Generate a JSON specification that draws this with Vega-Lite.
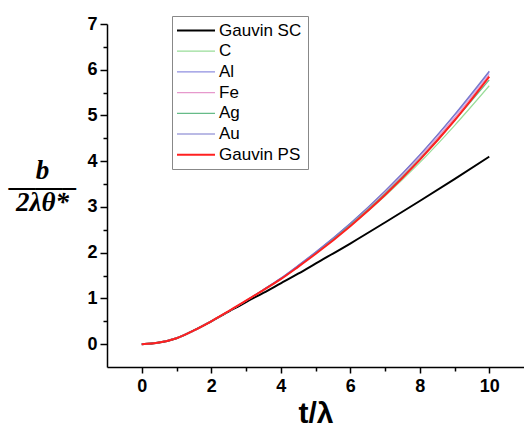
{
  "$schema": "https://vega.github.io/schema/vega-lite/v6.json",
  "width": 417,
  "height": 343,
  "autosize": {"type": "none"},
  "padding": {"left": 107, "top": 24, "right": 0, "bottom": 62},
  "background": "white",
  "config": {
    "view": {"stroke": null},
    "axis": {
      "grid": false,
      "domainColor": "#000000",
      "domainWidth": 1.5,
      "tickColor": "#000000",
      "tickWidth": 1.5,
      "labelColor": "#000000",
      "labelFont": "Liberation Sans",
      "labelFontSize": 18,
      "labelFontWeight": "bold",
      "titleColor": "#000000"
    }
  },
  "data": {
    "values": [
      {"t": 0, "b": 0, "series": "Gauvin SC"},
      {"t": 0.5, "b": 0.035, "series": "Gauvin SC"},
      {"t": 1, "b": 0.13, "series": "Gauvin SC"},
      {"t": 1.5, "b": 0.3, "series": "Gauvin SC"},
      {"t": 2, "b": 0.5, "series": "Gauvin SC"},
      {"t": 2.5, "b": 0.71, "series": "Gauvin SC"},
      {"t": 3, "b": 0.92, "series": "Gauvin SC"},
      {"t": 3.5, "b": 1.12, "series": "Gauvin SC"},
      {"t": 4, "b": 1.33, "series": "Gauvin SC"},
      {"t": 4.5, "b": 1.54, "series": "Gauvin SC"},
      {"t": 5, "b": 1.76, "series": "Gauvin SC"},
      {"t": 6, "b": 2.2, "series": "Gauvin SC"},
      {"t": 7, "b": 2.66, "series": "Gauvin SC"},
      {"t": 8, "b": 3.13, "series": "Gauvin SC"},
      {"t": 9, "b": 3.61, "series": "Gauvin SC"},
      {"t": 10, "b": 4.1, "series": "Gauvin SC"},

      {"t": 0, "b": 0, "series": "C"},
      {"t": 0.5, "b": 0.035, "series": "C"},
      {"t": 1, "b": 0.13, "series": "C"},
      {"t": 1.5, "b": 0.3, "series": "C"},
      {"t": 2, "b": 0.5, "series": "C"},
      {"t": 2.5, "b": 0.72, "series": "C"},
      {"t": 3, "b": 0.95, "series": "C"},
      {"t": 3.5, "b": 1.18, "series": "C"},
      {"t": 4, "b": 1.42, "series": "C"},
      {"t": 4.5, "b": 1.69, "series": "C"},
      {"t": 5, "b": 1.98, "series": "C"},
      {"t": 6, "b": 2.58, "series": "C"},
      {"t": 7, "b": 3.24, "series": "C"},
      {"t": 8, "b": 3.97, "series": "C"},
      {"t": 9, "b": 4.78, "series": "C"},
      {"t": 10, "b": 5.65, "series": "C"},

      {"t": 0, "b": 0, "series": "Al"},
      {"t": 0.5, "b": 0.035, "series": "Al"},
      {"t": 1, "b": 0.13, "series": "Al"},
      {"t": 1.5, "b": 0.3, "series": "Al"},
      {"t": 2, "b": 0.5, "series": "Al"},
      {"t": 2.5, "b": 0.72, "series": "Al"},
      {"t": 3, "b": 0.95, "series": "Al"},
      {"t": 3.5, "b": 1.19, "series": "Al"},
      {"t": 4, "b": 1.44, "series": "Al"},
      {"t": 4.5, "b": 1.72, "series": "Al"},
      {"t": 5, "b": 2.01, "series": "Al"},
      {"t": 6, "b": 2.64, "series": "Al"},
      {"t": 7, "b": 3.34, "series": "Al"},
      {"t": 8, "b": 4.13, "series": "Al"},
      {"t": 9, "b": 5.0, "series": "Al"},
      {"t": 10, "b": 5.95, "series": "Al"},

      {"t": 0, "b": 0, "series": "Fe"},
      {"t": 0.5, "b": 0.035, "series": "Fe"},
      {"t": 1, "b": 0.13, "series": "Fe"},
      {"t": 1.5, "b": 0.3, "series": "Fe"},
      {"t": 2, "b": 0.5, "series": "Fe"},
      {"t": 2.5, "b": 0.72, "series": "Fe"},
      {"t": 3, "b": 0.95, "series": "Fe"},
      {"t": 3.5, "b": 1.19, "series": "Fe"},
      {"t": 4, "b": 1.43, "series": "Fe"},
      {"t": 4.5, "b": 1.71, "series": "Fe"},
      {"t": 5, "b": 2.0, "series": "Fe"},
      {"t": 6, "b": 2.62, "series": "Fe"},
      {"t": 7, "b": 3.31, "series": "Fe"},
      {"t": 8, "b": 4.09, "series": "Fe"},
      {"t": 9, "b": 4.95, "series": "Fe"},
      {"t": 10, "b": 5.9, "series": "Fe"},

      {"t": 0, "b": 0, "series": "Ag"},
      {"t": 0.5, "b": 0.035, "series": "Ag"},
      {"t": 1, "b": 0.13, "series": "Ag"},
      {"t": 1.5, "b": 0.3, "series": "Ag"},
      {"t": 2, "b": 0.5, "series": "Ag"},
      {"t": 2.5, "b": 0.72, "series": "Ag"},
      {"t": 3, "b": 0.95, "series": "Ag"},
      {"t": 3.5, "b": 1.19, "series": "Ag"},
      {"t": 4, "b": 1.43, "series": "Ag"},
      {"t": 4.5, "b": 1.7, "series": "Ag"},
      {"t": 5, "b": 1.99, "series": "Ag"},
      {"t": 6, "b": 2.61, "series": "Ag"},
      {"t": 7, "b": 3.29, "series": "Ag"},
      {"t": 8, "b": 4.05, "series": "Ag"},
      {"t": 9, "b": 4.89, "series": "Ag"},
      {"t": 10, "b": 5.78, "series": "Ag"},

      {"t": 0, "b": 0, "series": "Au"},
      {"t": 0.5, "b": 0.035, "series": "Au"},
      {"t": 1, "b": 0.13, "series": "Au"},
      {"t": 1.5, "b": 0.3, "series": "Au"},
      {"t": 2, "b": 0.5, "series": "Au"},
      {"t": 2.5, "b": 0.72, "series": "Au"},
      {"t": 3, "b": 0.95, "series": "Au"},
      {"t": 3.5, "b": 1.19, "series": "Au"},
      {"t": 4, "b": 1.44, "series": "Au"},
      {"t": 4.5, "b": 1.72, "series": "Au"},
      {"t": 5, "b": 2.01, "series": "Au"},
      {"t": 6, "b": 2.64, "series": "Au"},
      {"t": 7, "b": 3.35, "series": "Au"},
      {"t": 8, "b": 4.14, "series": "Au"},
      {"t": 9, "b": 5.02, "series": "Au"},
      {"t": 10, "b": 5.97, "series": "Au"},

      {"t": 0, "b": 0, "series": "Gauvin PS"},
      {"t": 0.5, "b": 0.035, "series": "Gauvin PS"},
      {"t": 1, "b": 0.13, "series": "Gauvin PS"},
      {"t": 1.5, "b": 0.3, "series": "Gauvin PS"},
      {"t": 2, "b": 0.5, "series": "Gauvin PS"},
      {"t": 2.5, "b": 0.72, "series": "Gauvin PS"},
      {"t": 3, "b": 0.95, "series": "Gauvin PS"},
      {"t": 3.5, "b": 1.18, "series": "Gauvin PS"},
      {"t": 4, "b": 1.42, "series": "Gauvin PS"},
      {"t": 4.5, "b": 1.69, "series": "Gauvin PS"},
      {"t": 5, "b": 1.97, "series": "Gauvin PS"},
      {"t": 6, "b": 2.58, "series": "Gauvin PS"},
      {"t": 7, "b": 3.26, "series": "Gauvin PS"},
      {"t": 8, "b": 4.03, "series": "Gauvin PS"},
      {"t": 9, "b": 4.89, "series": "Gauvin PS"},
      {"t": 10, "b": 5.85, "series": "Gauvin PS"}
    ]
  },
  "mark": {"type": "line", "interpolate": "monotone"},
  "encoding": {
    "x": {
      "field": "t",
      "type": "quantitative",
      "scale": {"domain": [-1, 11], "nice": false, "zero": false},
      "axis": {
        "values": [0, 1, 2, 3, 4, 5, 6, 7, 8, 9, 10],
        "labelExpr": "datum.value % 2 === 0 ? format(datum.value, 'd') : ''",
        "tickSize": {"condition": {"test": "datum.value % 2 === 0", "value": 6}, "value": 4},
        "labelPadding": 4,
        "title": "t/λ",
        "titleFont": "Liberation Sans",
        "titleFontSize": 30,
        "titleFontWeight": "bold",
        "titleBaseline": "alphabetic",
        "titleY": 55
      }
    },
    "y": {
      "field": "b",
      "type": "quantitative",
      "scale": {"domain": [-0.5, 7], "nice": false, "zero": false},
      "axis": {
        "values": [0, 0.5, 1, 1.5, 2, 2.5, 3, 3.5, 4, 4.5, 5, 5.5, 6, 6.5, 7],
        "labelExpr": "datum.value % 1 === 0 ? format(datum.value, 'd') : ''",
        "tickSize": {"condition": {"test": "datum.value % 1 === 0", "value": 7}, "value": 4},
        "labelPadding": 3,
        "title": ["b", "——–", "2λθ*"],
        "titleFont": "Liberation Serif",
        "titleFontSize": 27,
        "titleFontStyle": "italic",
        "titleFontWeight": "bold",
        "titleLineHeight": 16,
        "titleAngle": 0,
        "titleAlign": "center",
        "titleBaseline": "alphabetic",
        "titleX": -65,
        "titleY": 154
      }
    },
    "color": {
      "field": "series",
      "type": "nominal",
      "scale": {
        "domain": ["Gauvin SC", "C", "Al", "Fe", "Ag", "Au", "Gauvin PS"],
        "range": ["#000000", "#99dd99", "#8f8fe0", "#e699cc", "#66bb88", "#7777cc", "#ff2020"]
      },
      "legend": {
        "title": null,
        "orient": "none",
        "legendX": 65,
        "legendY": -8,
        "symbolType": "M-1,0H3",
        "symbolSize": 361,
        "labelFont": "Liberation Sans",
        "labelFontSize": 17,
        "labelColor": "#000000",
        "labelOffset": 24,
        "rowPadding": 2.7,
        "padding": 6,
        "strokeColor": "#888888",
        "fillColor": "white",
        "encode": {
          "symbols": {
            "update": {
              "strokeWidth": {"signal": "datum.value === 'Gauvin SC' || datum.value === 'Gauvin PS' ? 2 : 1.2"}
            }
          }
        }
      }
    },
    "strokeWidth": {
      "condition": {"test": "datum.series === 'Gauvin SC' || datum.series === 'Gauvin PS'", "value": 2},
      "value": 1.2
    }
  }
}
